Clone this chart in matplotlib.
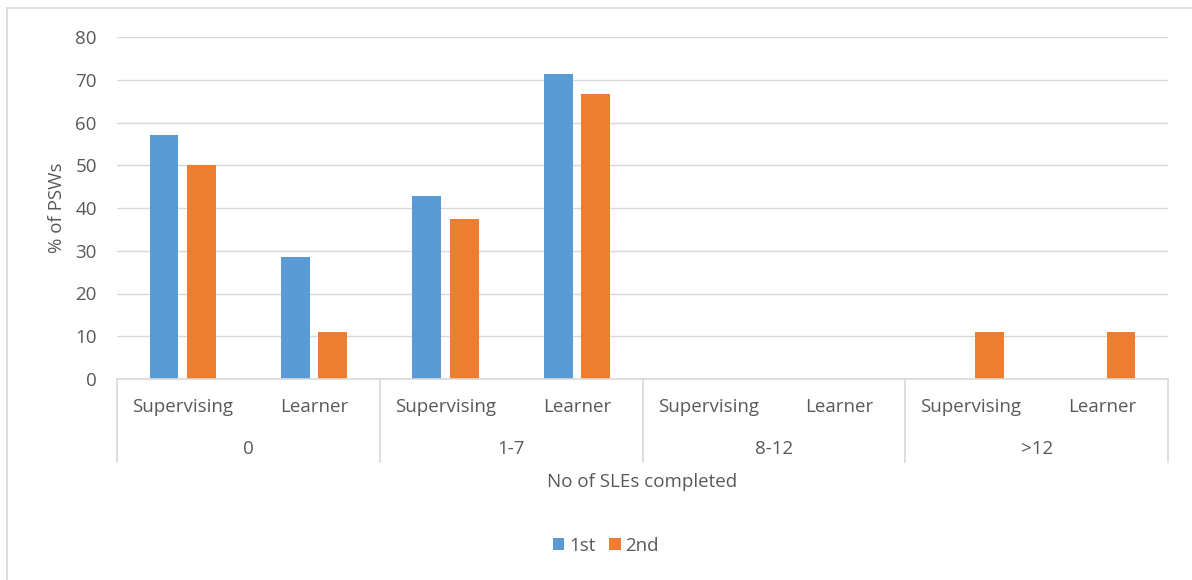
import matplotlib
matplotlib.use("Agg")
import matplotlib.pyplot as plt
from matplotlib.patches import Patch
from matplotlib.lines import Line2D
import matplotlib.transforms as mtransforms

plt.rcParams['font.family'] = ['Open Sans', 'DejaVu Sans']

# Data
groups = ["0", "1-7", "8-12", ">12"]
roles = ["Supervising", "Learner"]
series_names = ["1st", "2nd"]
first = [57.1, 28.6, 42.9, 71.4, 0, 0, 0, 0]
second = [50.0, 11.1, 37.5, 66.7, 0, 0, 11.1, 11.1]
y_ticks = [0, 10, 20, 30, 40, 50, 60, 70, 80]

BLUE = "#5B9BD5"
ORANGE = "#ED7D31"
TEXT = "#595959"
GRID = "#D9D9D9"
FS = 13.5

W, H = 1192, 580
fig = plt.figure(figsize=(W / 100, H / 100), dpi=100)

# chart border (left and top edges)
fig.add_artist(Line2D([7.5 / W, 7.5 / W], [0, 1 - 7.5 / H], transform=fig.transFigure,
                      color=GRID, linewidth=1.2))
fig.add_artist(Line2D([7.5 / W, 1], [1 - 7.5 / H, 1 - 7.5 / H], transform=fig.transFigure,
                      color=GRID, linewidth=1.2))

left, right, top, bottom = 117, 1168, 37, 379
ax = fig.add_axes([left / W, 1 - bottom / H, (right - left) / W, (bottom - top) / H])

n = len(first)
x = list(range(n))
bw = 0.22
off = 0.142
ax.bar([i - off for i in x], first, width=bw, color=BLUE, zorder=3)
ax.bar([i + off for i in x], second, width=bw, color=ORANGE, zorder=3)

ax.set_xlim(-0.5, n - 0.5)
ax.set_ylim(0, 80)
ax.set_yticks(y_ticks)
ax.set_yticklabels([str(t) for t in y_ticks], color=TEXT, fontsize=FS)
ax.tick_params(axis='y', length=0, pad=14.5)
ax.tick_params(axis='x', length=0, labelbottom=False)
ax.grid(axis='y', color=GRID, linewidth=1.0, zorder=0)
for s in ax.spines.values():
    s.set_visible(False)
ax.axhline(0, color=GRID, linewidth=1.2, zorder=4, clip_on=False)

fig.text(57 / W, 1 - 208 / H, "% of PSWs", rotation=90, ha='center', va='center',
         color=TEXT, fontsize=FS)

# multi-level category axis
trans = mtransforms.blended_transform_factory(ax.transData, ax.transAxes)
ph = bottom - top
sep_bottom = -(462 - bottom) / ph
for g in range(len(groups) + 1):
    xs = -0.5 + 2 * g
    ax.add_line(Line2D([xs, xs], [0, sep_bottom], transform=trans, color=GRID,
                       linewidth=1.2, clip_on=False))
for i in x:
    ax.text(i, -(407 - bottom) / ph, roles[i % 2], transform=trans, ha='center',
            va='center', color=TEXT, fontsize=FS)
for g, name in enumerate(groups):
    ax.text(2 * g + 0.5, -(449 - bottom) / ph, name, transform=trans, ha='center',
            va='center', color=TEXT, fontsize=FS)

ax.text(0.5, -(482 - bottom) / ph, "No of SLEs completed", transform=ax.transAxes,
        ha='center', va='center', color=TEXT, fontsize=FS)

handles = [Patch(facecolor=BLUE, label=series_names[0]),
           Patch(facecolor=ORANGE, label=series_names[1])]
leg = fig.legend(handles=handles, loc='center', bbox_to_anchor=(0.5 + 10 / W, 1 - 546 / H),
                 ncol=2, frameon=False, fontsize=FS, handlelength=0.6,
                 handleheight=0.6, handletextpad=0.25, columnspacing=0.75)
for t in leg.get_texts():
    t.set_color(TEXT)

fig.savefig("out.png", dpi=100, facecolor="white")
